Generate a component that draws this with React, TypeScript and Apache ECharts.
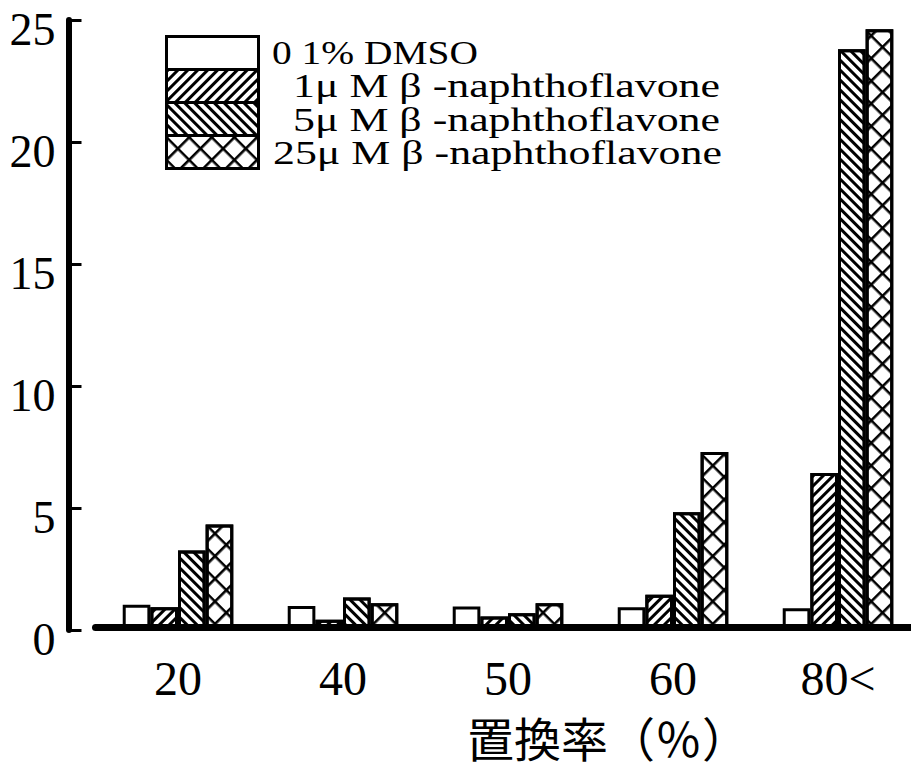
import React, { useEffect, useRef } from "react";
import * as echarts from "echarts";

const categories = ["20", "40", "50", "60", "80<"];
const seriesNames = [
  "0 1% DMSO",
  "1μ M β -naphthoflavone",
  "5μ M β -naphthoflavone",
  "25μ M β -naphthoflavone",
];
const dmso = [1.03, 0.98, 0.96, 0.93, 0.89];
const nf1 = [0.93, 0.42, 0.55, 1.44, 6.43];
const nf5 = [3.26, 1.33, 0.69, 4.83, 23.8];
const nf25 = [4.32, 1.1, 1.1, 7.29, 24.62];
const yTicks = { min: 0, max: 25, interval: 5 };
const xAxisName = "置換率（％）";

const serif = "Liberation Serif";

export default function App() {
  const ref = useRef<HTMLDivElement>(null);
  useEffect(() => {
    document.body.style.margin = "0";
    if (!ref.current) return;
    const chart = echarts.init(ref.current, undefined, { renderer: "svg" });

    const fwd = {
      symbol: "rect",
      symbolSize: 1,
      dashArrayX: [1, 0],
      dashArrayY: [2.3, 3.7],
      rotation: -Math.PI / 4,
      color: "#000",
    };
    const back = { ...fwd, rotation: Math.PI / 4 };
    const cross = {
      symbol: "path://M0 0H16V2.6H0Z M0 0H2.6V16H0Z",
      symbolSize: 1,
      symbolKeepAspect: false,
      dashArrayX: [16, 0],
      dashArrayY: [16, 0],
      rotation: Math.PI / 4,
      color: "#000",
    };
    const decals: any[] = [null, fwd, back, cross];
    const datas = [dmso, nf1, nf5, nf25];

    const baseItem = { color: "#fff", borderColor: "#000", borderWidth: 3 };

    const legendX = [272, 293, 293, 273];
    const legendY = [52, 85, 119, 152];
    const legendScale = [1.16, 1.29, 1.29, 1.29];

    chart.setOption({
      animation: false,
      backgroundColor: "#fff",
      textStyle: { fontFamily: serif },
      grid: {
        left: 95.5,
        right: -9.5,
        top: 20,
        bottom: 139,
        containLabel: false,
        outerBoundsMode: "none",
      },
      legend: {
        orient: "vertical",
        left: 165,
        top: 35,
        padding: 0,
        itemGap: -3,
        itemWidth: 92,
        itemHeight: 33,
        icon: "rect",
        selectedMode: false,
        formatter: () => "",
        itemStyle: { borderColor: "#000", borderWidth: 3 },
        data: seriesNames,
      },
      xAxis: {
        type: "category",
        data: categories,
        z: 5,
        offset: -3,
        axisLine: { show: true, lineStyle: { color: "#000", width: 7 } },
        axisTick: { show: false },
        axisLabel: {
          margin: 29,
          formatter: "{a|{value}}",
          rich: {
            a: { color: "#000", fontFamily: serif, fontSize: 48, lineHeight: 44 },
          },
        },
        splitLine: { show: false },
      },
      yAxis: {
        type: "value",
        min: yTicks.min,
        max: yTicks.max,
        interval: yTicks.interval,
        offset: 27,
        axisLine: { show: true, lineStyle: { color: "#000", width: 6 } },
        axisTick: {
          show: true,
          inside: true,
          length: 13,
          lineStyle: { color: "#000", width: 3 },
        },
        axisLabel: {
          margin: 13,
          formatter: "{a|{value}}",
          rich: {
            a: {
              color: "#000",
              fontFamily: serif,
              fontSize: 46,
              lineHeight: 22,
              padding: [18, 0, 0, 0],
            },
          },
        },
        splitLine: { show: false },
      },
      series: datas.map((d, i) => ({
        type: "bar",
        name: seriesNames[i],
        data: d,
        barGap: "0%",
        barCategoryGap: "33%",
        itemStyle: decals[i] ? { ...baseItem, decal: decals[i] } : { ...baseItem },
        emphasis: { disabled: true },
      })),
      graphic: [
        ...seriesNames.map((n, i) => ({
          type: "text",
          x: legendX[i],
          y: legendY[i],
          scaleX: legendScale[i],
          silent: true,
          style: {
            text: n,
            x: 0,
            y: 0,
            fill: "#000",
            font: `34px ${serif}`,
            textAlign: "left",
            textVerticalAlign: "middle",
          },
        })),
        {
          type: "text",
          x: 608,
          y: 736,
          silent: true,
          style: {
            text: xAxisName,
            fill: "#000",
            font: "47px Noto Sans CJK JP",
            lineHeight: 47,
            textAlign: "center",
            textVerticalAlign: "middle",
          },
        },
      ],
    });
    return () => chart.dispose();
  }, []);
  return <div ref={ref} style={{ width: 911, height: 769 }} />;
}
